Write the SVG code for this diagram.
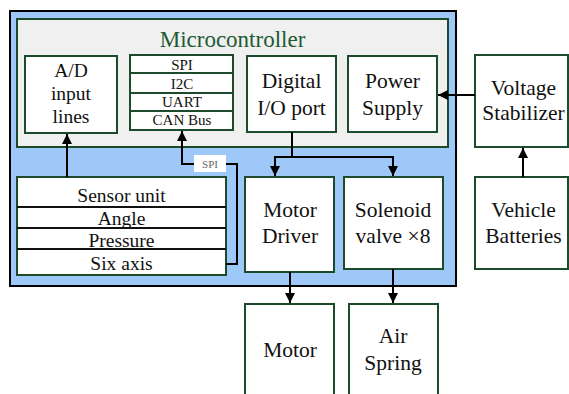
<svg xmlns="http://www.w3.org/2000/svg" width="569" height="394" viewBox="0 0 569 394">
<defs>
<marker id="ah" viewBox="0 0 10 10" refX="10" refY="5" markerWidth="10" markerHeight="11" markerUnits="userSpaceOnUse" orient="auto"><path d="M0,0 L10,5 L0,10 z" fill="#000"/></marker>
<style>
.b{fill:#fff;stroke:#1e4a2c;stroke-width:2}
text{font-family:'Liberation Serif','Times New Roman','DejaVu Serif',serif}
.t{font-size:21.5px;fill:#111;text-anchor:middle}
.m{font-size:19.5px;fill:#111;text-anchor:middle}
.s{font-size:15px;fill:#111;text-anchor:middle}
.h{font-size:23px;fill:#1e5a34;text-anchor:middle}
.l{font-size:11px;fill:#666;text-anchor:middle}
.c{fill:none;stroke:#000;stroke-width:2}
</style>
</defs>
<rect width="569" height="394" fill="#fff"/>
<g id="outer"><rect x="10" y="11" width="446" height="275" fill="#9ec8f7" stroke="#000" stroke-width="2"/></g>
<g id="microcontroller"><rect x="17" y="19" width="431" height="128" fill="#f0f0f0" stroke="#1e4a2c" stroke-width="2"/>
<text class="h" x="232.5" y="47">Microcontroller</text></g>
<g id="ad"><rect class="b" x="25" y="56" width="92" height="77"/>
<text class="m" x="71" y="77">A/D</text><text class="m" x="71" y="100">input</text><text class="m" x="71" y="123">lines</text></g>
<g id="bus"><rect class="b" x="130" y="55" width="103" height="75"/>
<path d="M130,73H233M130,93H233M130,111H233" stroke="#1e4a2c" stroke-width="2"/>
<text class="s" x="182" y="70">SPI</text><text class="s" x="182" y="89">I2C</text><text class="s" x="182" y="107">UART</text><text class="s" x="182" y="125">CAN Bus</text></g>
<g id="dio"><rect class="b" x="247" y="56" width="89" height="76"/>
<text class="t" x="291.5" y="88">Digital</text><text class="t" x="291.5" y="115">I/O port</text></g>
<g id="power"><rect class="b" x="348" y="56" width="89" height="76"/>
<text class="t" x="392.5" y="88">Power</text><text class="t" x="392.5" y="115">Supply</text></g>
<g id="stabilizer"><rect class="b" x="475" y="55" width="93" height="92"/>
<text class="t" x="523.5" y="95">Voltage</text><text class="t" x="523.5" y="120">Stabilizer</text></g>
<g id="batteries"><rect class="b" x="475" y="177" width="93" height="92"/>
<text class="t" x="523.5" y="217">Vehicle</text><text class="t" x="523.5" y="243">Batteries</text></g>
<g id="sensor"><rect class="b" x="17" y="177" width="209" height="98"/>
<path d="M17,207H226M17,228H226M17,249H226" stroke="#111" stroke-width="2"/>
<text class="m" x="121.5" y="202">Sensor unit</text><text class="m" x="121.5" y="225">Angle</text><text class="m" x="121.5" y="247">Pressure</text><text class="m" x="121.5" y="270">Six axis</text></g>
<g id="driver"><rect class="b" x="245" y="177" width="89" height="95"/>
<text class="t" x="290" y="217">Motor</text><text class="t" x="290" y="243">Driver</text></g>
<g id="solenoid"><rect class="b" x="344" y="177" width="99" height="92"/>
<text class="t" x="393" y="217">Solenoid</text><text class="t" x="393" y="243">valve ×8</text></g>
<g id="motor"><rect class="b" x="245" y="304" width="89" height="100"/>
<text class="t" x="290" y="357">Motor</text></g>
<g id="airspring"><rect class="b" x="349" y="304" width="89" height="100"/>
<text class="t" x="393" y="343">Air</text><text class="t" x="393" y="370">Spring</text></g>
<g id="connectors">
<path class="c" d="M475,95H438" marker-end="url(#ah)"/>
<path class="c" d="M523,177V148" marker-end="url(#ah)"/>
<path class="c" d="M67,177V134" marker-end="url(#ah)"/>
<path class="c" d="M226,264H237V164H182V131" marker-end="url(#ah)"/>
<path class="c" d="M292,132V157"/>
<path class="c" d="M275,157H393"/>
<path class="c" d="M275,156V176" marker-end="url(#ah)"/>
<path class="c" d="M393,156V176" marker-end="url(#ah)"/>
<path class="c" d="M290,272V303" marker-end="url(#ah)"/>
<path class="c" d="M393,269V303" marker-end="url(#ah)"/>
<rect x="194" y="155" width="32" height="17" fill="#fff"/>
<text class="l" x="210" y="167.5">SPI</text>
</g>
</svg>
